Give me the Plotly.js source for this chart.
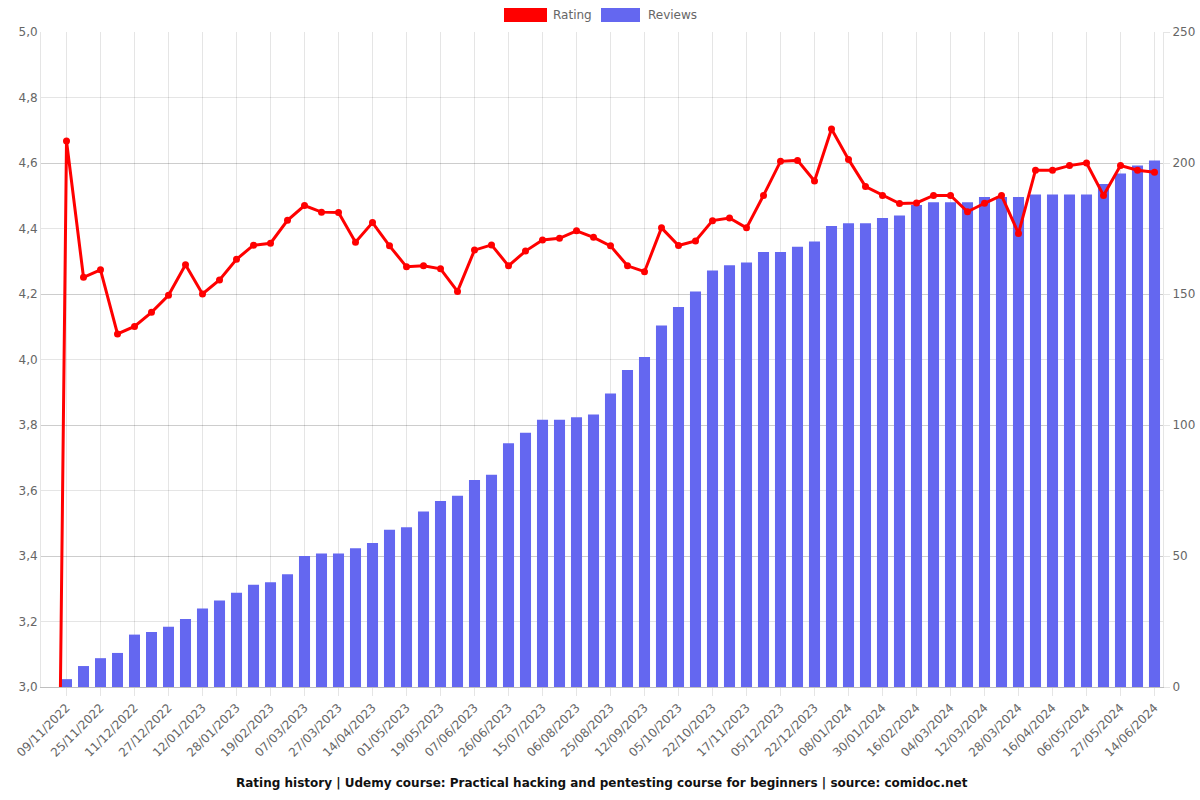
<!DOCTYPE html>
<html>
<head>
<meta charset="utf-8">
<script src="https://cdn.plot.ly/plotly-3.0.1.min.js"></script>
<style>html,body{margin:0;padding:0;background:#fff}#chart{width:1200px;height:800px}</style>
</head>
<body>
<div id="chart"></div>
<script>
const dates = [
  "02/11/2022","09/11/2022","17/11/2022","25/11/2022","03/12/2022","11/12/2022","19/12/2022","27/12/2022",
  "04/01/2023","12/01/2023","20/01/2023","28/01/2023","08/02/2023","19/02/2023","27/02/2023","07/03/2023",
  "17/03/2023","27/03/2023","05/04/2023","14/04/2023","23/04/2023","01/05/2023","10/05/2023","19/05/2023",
  "28/05/2023","07/06/2023","16/06/2023","26/06/2023","05/07/2023","15/07/2023","26/07/2023","06/08/2023",
  "15/08/2023","25/08/2023","03/09/2023","12/09/2023","24/09/2023","05/10/2023","13/10/2023","22/10/2023",
  "04/11/2023","17/11/2023","26/11/2023","05/12/2023","13/12/2023","22/12/2023","30/12/2023","08/01/2024",
  "19/01/2024","30/01/2024","07/02/2024","16/02/2024","24/02/2024","04/03/2024","08/03/2024","12/03/2024",
  "20/03/2024","28/03/2024","07/04/2024","16/04/2024","26/04/2024","06/05/2024","16/05/2024","27/05/2024",
  "05/06/2024","14/06/2024"
];
const rating = [
  0, 4.667, 4.251, 4.274, 4.078, 4.101, 4.144, 4.196,
  4.289, 4.200, 4.243, 4.306, 4.349, 4.355, 4.425, 4.470,
  4.450, 4.449, 4.358, 4.418, 4.347, 4.283, 4.286, 4.277,
  4.208, 4.334, 4.350, 4.286, 4.331, 4.365, 4.370, 4.393,
  4.373, 4.347, 4.286, 4.268, 4.402, 4.348, 4.362, 4.424,
  4.432, 4.402, 4.501, 4.605, 4.608, 4.545, 4.704, 4.611,
  4.528, 4.501, 4.476, 4.478, 4.501, 4.501, 4.451, 4.477,
  4.501, 4.385, 4.578, 4.578, 4.592, 4.600, 4.501, 4.592,
  4.578, 4.572
];
const reviews = [
  0, 3, 8, 11, 13, 20, 21, 23,
  26, 30, 33, 36, 39, 40, 43, 50,
  51, 51, 53, 55, 60, 61, 67, 71,
  73, 79, 81, 93, 97, 102, 102, 103,
  104, 112, 121, 126, 138, 145, 151, 159,
  161, 162, 166, 166, 168, 170, 176, 177,
  177, 179, 180, 184, 185, 185, 185, 187,
  187, 187, 188, 188, 188, 188, 192, 196,
  199, 201
];
const tickDates = dates.filter((d, i) => i % 2 === 1);
const titleText = "Rating history | Udemy course: Practical hacking and pentesting course for beginners | source: comidoc.net";

const FONT = "DejaVu Sans, sans-serif";
const GRID = "rgba(0,0,0,0.1)";

const traces = [
  {
    type: "bar", name: "Reviews", x: dates, y: reviews, yaxis: "y",
    marker: {color: "#6467f0", line: {width: 0}},
    showlegend: false, hoverinfo: "x+y"
  },
  {
    type: "scatter", mode: "lines+markers", name: "Rating", x: dates, y: rating, yaxis: "y2",
    line: {color: "#ff0000", width: 3},
    marker: {color: "#ff0000", size: 7},
    showlegend: false
  }
];

const layout = {
  width: 1200, height: 800,
  margin: {l: 41, r: 37, t: 32, b: 113},
  paper_bgcolor: "#fff", plot_bgcolor: "#fff",
  font: {family: FONT, size: 12, color: "#666"},
  separators: ",.",
  bargap: 0.35,
  xaxis: {
    type: "category",
    tickmode: "array", tickvals: tickDates, ticktext: tickDates,
    tickangle: -45,
    showgrid: true, gridcolor: GRID,
    ticks: "outside", ticklen: 8, tickcolor: GRID,
    showline: true, linecolor: "rgba(0,0,0,0.25)",
    tickfont: {family: FONT, size: 12, color: "#666"},
    range: [-0.5, dates.length - 0.5],
    fixedrange: true
  },
  yaxis: {
    side: "right", range: [0, 250], tickvals: [0, 50, 100, 150, 200, 250],
    showgrid: true, gridcolor: GRID,
    ticks: "outside", ticklen: 6, tickcolor: GRID,
    showline: true, linecolor: GRID,
    zeroline: false,
    tickfont: {family: FONT, size: 12, color: "#666"}
  },
  yaxis2: {
    overlaying: "y", side: "left", range: [3, 5],
    tickvals: [3, 3.2, 3.4, 3.6, 3.8, 4, 4.2, 4.4, 4.6, 4.8, 5],
    tickformat: ".1f",
    showgrid: true, gridcolor: GRID,
    showline: true, linecolor: GRID,
    zeroline: false,
    tickfont: {family: FONT, size: 12, color: "#666"}
  },
  shapes: [
    {type: "rect", xref: "paper", yref: "paper", xsizemode: "pixel", ysizemode: "pixel",
     xanchor: (504 - 41) / 1122, yanchor: 1, x0: 0, x1: 43, y0: 10, y1: 24,
     fillcolor: "#ff0000", line: {width: 0}},
    {type: "rect", xref: "paper", yref: "paper", xsizemode: "pixel", ysizemode: "pixel",
     xanchor: (601 - 41) / 1122, yanchor: 1, x0: 0, x1: 39, y0: 10, y1: 24,
     fillcolor: "#6467f0", line: {width: 0}}
  ],
  annotations: [
    {text: "Rating", xref: "paper", yref: "paper", x: (551 - 41) / 1122, y: 1, yshift: 17,
     xanchor: "left", yanchor: "middle", showarrow: false,
     font: {family: FONT, size: 12, color: "#666"}},
    {text: "Reviews", xref: "paper", yref: "paper", x: (646 - 41) / 1122, y: 1, yshift: 17,
     xanchor: "left", yanchor: "middle", showarrow: false,
     font: {family: FONT, size: 12, color: "#666"}},
    {text: "<b>" + titleText + "</b>", xref: "paper", yref: "paper", x: 0.5, y: 0, yshift: -96,
     xanchor: "center", yanchor: "middle", showarrow: false,
     font: {family: FONT, size: 12, color: "#111"}}
  ]
};

Plotly.newPlot("chart", traces, layout, {displayModeBar: false, staticPlot: true});
</script>
</body>
</html>
